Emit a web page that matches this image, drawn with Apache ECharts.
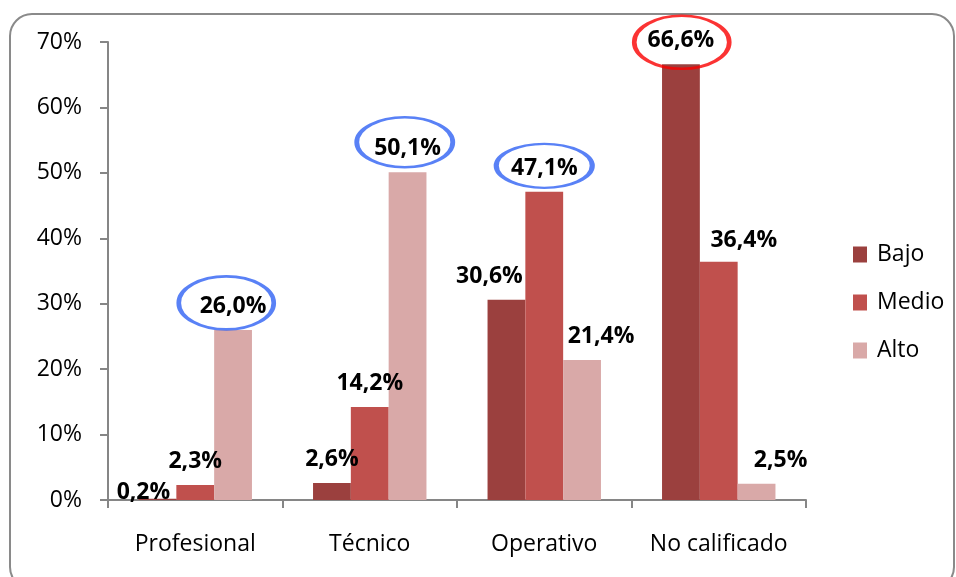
<!DOCTYPE html>
<html>
<head>
<meta charset="utf-8">
<script src="https://cdn.jsdelivr.net/npm/echarts@6/dist/echarts.min.js"></script>
<style>
html,body{margin:0;padding:0;background:#fff;}
#chart{width:956px;height:577px;}
</style>
</head>
<body>
<div id="chart"></div>
<script>
// ---- data ----
var categories = ['Profesional', 'Técnico', 'Operativo', 'No calificado'];
var seriesNames = ['Bajo', 'Medio', 'Alto'];
var bajo  = [0.2, 2.6, 30.6, 66.6];
var medio = [2.3, 14.2, 47.1, 36.4];
var alto  = [26.0, 50.1, 21.4, 2.5];
var yTicks = [0, 10, 20, 30, 40, 50, 60, 70];
// highlighted labels: [seriesIndex, categoryIndex, ring colour]
var highlights = [[2, 0, 'blue'], [2, 1, 'blue'], [1, 2, 'blue'], [0, 3, 'red']];

// ---- styles ----
var colors = ['#9B403E', '#C0504D', '#D9A9A8'];
var ringColors = { blue: '#2F62F4', red: '#FA0000' };
var FONT = 'Open Sans';
// per-point label nudges [series][category] (px)
var labelOffsets = [
  [[-14, 17], [0, 0], [-17, 0], [0, 0]],
  [[0, 0], [0, 0], [0, 0], [25, 2]],
  [[0, 0], [0, 0], [19, 0], [24, 0]]
];
// ring placement relative to the category centre / bar top (px) and size
var ringStyle = [
  { offset: [31, -27], size: [95, 53] },
  { offset: [35, -30], size: [96, 50] },
  { offset: [0, -26], size: [96, 44] },
  { offset: [-37, -22], size: [95, 53] }
];

var values = [bajo, medio, alto];

function fmt(v) { return v.toFixed(1).replace('.', ',') + '%'; }

var barSeries = seriesNames.map(function (name, si) {
  return {
    name: name,
    type: 'bar',
    barGap: '0%',
    barCategoryGap: '35%',
    itemStyle: { color: colors[si] },
    label: {
      show: true,
      position: 'top',
      distance: 12,
      fontFamily: FONT,
      fontWeight: 'bold',
      fontSize: 23,
      color: '#000',
      formatter: function (p) { return fmt(p.value); }
    },
    data: values[si].map(function (v, ci) {
      return { value: v, label: { offset: labelOffsets[si][ci] } };
    })
  };
});

var ringSeries = {
  name: 'rings',
  type: 'scatter',
  silent: true,
  z: 5,
  data: highlights.map(function (h, i) {
    return {
      value: [h[1], values[h[0]][h[1]]],
      symbol: 'circle',
      symbolSize: ringStyle[i].size,
      symbolOffset: ringStyle[i].offset,
      itemStyle: { color: 'rgba(0,0,0,0)', borderColor: ringColors[h[2]], borderWidth: 3.5 }
    };
  })
};

var chart = echarts.init(document.getElementById('chart'), null, { renderer: 'canvas' });
chart.setOption({
  animation: false,
  backgroundColor: '#fff',
  textStyle: { fontFamily: FONT },
  graphic: [{
    type: 'rect',
    shape: { x: 10, y: 14, width: 944, height: 575, r: 22 },
    style: { fill: 'none', stroke: '#8A8A8A', lineWidth: 2 },
    silent: true,
    z: -1
  }],
  grid: { left: 108, right: 150, top: 42, bottom: 77 },
  legend: {
    data: seriesNames,
    orient: 'vertical',
    left: 848,
    top: 238,
    itemWidth: 14,
    itemHeight: 16,
    itemGap: 25,
    icon: 'rect',
    textStyle: { fontFamily: FONT, fontSize: 23, color: '#000', padding: [0, 0, 0, 5] }
  },
  xAxis: {
    type: 'category',
    data: categories,
    axisLine: { lineStyle: { color: '#868686', width: 2 } },
    axisTick: { show: true, interval: 0, length: 8, lineStyle: { color: '#868686', width: 2 } },
    axisLabel: { interval: 0, fontFamily: FONT, fontSize: 23, color: '#000', margin: 33 }
  },
  yAxis: {
    type: 'value',
    min: yTicks[0],
    max: yTicks[yTicks.length - 1],
    interval: yTicks[1] - yTicks[0],
    axisLine: { show: true, lineStyle: { color: '#868686', width: 2 } },
    axisTick: { show: true, length: 8, lineStyle: { color: '#868686', width: 2 } },
    splitLine: { show: false },
    axisLabel: { fontFamily: FONT, fontSize: 23, color: '#000', margin: 26, formatter: '{value}%' }
  },
  series: barSeries.concat([ringSeries])
});
</script>
</body>
</html>
